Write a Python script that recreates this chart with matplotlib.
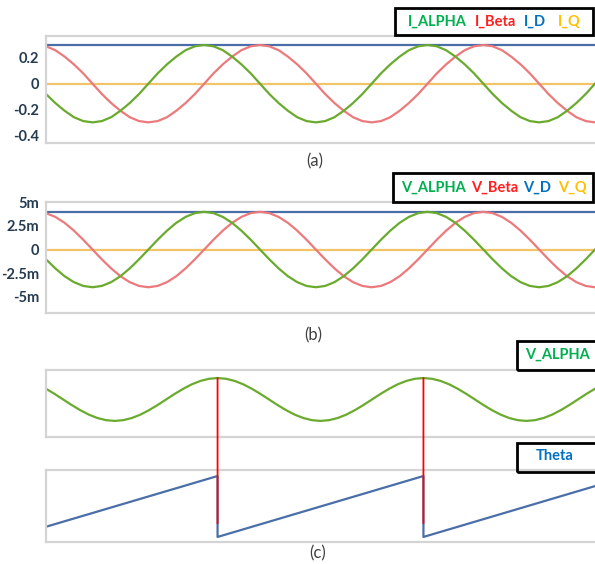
import numpy as np
import matplotlib.pyplot as plt
from matplotlib.patches import Rectangle, ConnectionPatch

plt.rcParams['font.family'] = ['Lato', 'DejaVu Sans']

# (a) currents, one sample per 15 deg of electrical angle
T_AB = np.arange(60)
I_ALPHA = [-0.08, -0.15, -0.21, -0.26, -0.29, -0.30, -0.29, -0.26, -0.21, -0.15, -0.08, 0.00,
           0.08, 0.15, 0.21, 0.26, 0.29, 0.30, 0.29, 0.26, 0.21, 0.15, 0.08, 0.00,
           -0.08, -0.15, -0.21, -0.26, -0.29, -0.30, -0.29, -0.26, -0.21, -0.15, -0.08, 0.00,
           0.08, 0.15, 0.21, 0.26, 0.29, 0.30, 0.29, 0.26, 0.21, 0.15, 0.08, 0.00,
           -0.08, -0.15, -0.21, -0.26, -0.29, -0.30, -0.29, -0.26, -0.21, -0.15, -0.08, 0.00]
I_BETA = [0.29, 0.26, 0.21, 0.15, 0.08, 0.00, -0.08, -0.15, -0.21, -0.26, -0.29, -0.30,
          -0.29, -0.26, -0.21, -0.15, -0.08, 0.00, 0.08, 0.15, 0.21, 0.26, 0.29, 0.30,
          0.29, 0.26, 0.21, 0.15, 0.08, 0.00, -0.08, -0.15, -0.21, -0.26, -0.29, -0.30,
          -0.29, -0.26, -0.21, -0.15, -0.08, 0.00, 0.08, 0.15, 0.21, 0.26, 0.29, 0.30,
          0.29, 0.26, 0.21, 0.15, 0.08, 0.00, -0.08, -0.15, -0.21, -0.26, -0.29, -0.30]
I_D = [0.30] * 60
I_Q = [0.00] * 60

# (b) voltages in mV
V_ALPHA = [-1.04, -2.0, -2.83, -3.46, -3.86, -4.0, -3.86, -3.46, -2.83, -2.0, -1.04, 0.0,
           1.04, 2.0, 2.83, 3.46, 3.86, 4.0, 3.86, 3.46, 2.83, 2.0, 1.04, 0.0,
           -1.04, -2.0, -2.83, -3.46, -3.86, -4.0, -3.86, -3.46, -2.83, -2.0, -1.04, 0.0,
           1.04, 2.0, 2.83, 3.46, 3.86, 4.0, 3.86, 3.46, 2.83, 2.0, 1.04, 0.0,
           -1.04, -2.0, -2.83, -3.46, -3.86, -4.0, -3.86, -3.46, -2.83, -2.0, -1.04, 0.0]
V_BETA = [3.86, 3.46, 2.83, 2.0, 1.04, 0.0, -1.04, -2.0, -2.83, -3.46, -3.86, -4.0,
          -3.86, -3.46, -2.83, -2.0, -1.04, 0.0, 1.04, 2.0, 2.83, 3.46, 3.86, 4.0,
          3.86, 3.46, 2.83, 2.0, 1.04, 0.0, -1.04, -2.0, -2.83, -3.46, -3.86, -4.0,
          -3.86, -3.46, -2.83, -2.0, -1.04, 0.0, 1.04, 2.0, 2.83, 3.46, 3.86, 4.0,
          3.86, 3.46, 2.83, 2.0, 1.04, 0.0, -1.04, -2.0, -2.83, -3.46, -3.86, -4.0]
V_D = [4.0] * 60
V_Q = [0.0] * 60
V_TICKS = [5, 2.5, 0, -2.5, -5]
V_TICKLABELS = ['5m', '2.5m', '0', '-2.5m', '-5m']

# (c) V_ALPHA and the PLL angle
T_C = np.arange(65)
V_ALPHA_C = [2.0, 1.04, 0.0, -1.04, -2.0, -2.83, -3.46, -3.86, -4.0,
             -3.86, -3.46, -2.83, -2.0, -1.04, 0.0, 1.04, 2.0, 2.83, 3.46, 3.86, 4.0,
             3.86, 3.46, 2.83, 2.0, 1.04, 0.0, -1.04, -2.0, -2.83, -3.46, -3.86, -4.0,
             -3.86, -3.46, -2.83, -2.0, -1.04, 0.0, 1.04, 2.0, 2.83, 3.46, 3.86, 4.0,
             3.86, 3.46, 2.83, 2.0, 1.04, 0.0, -1.04, -2.0, -2.83, -3.46, -3.86, -4.0,
             -3.86, -3.46, -2.83, -2.0, -1.04, 0.0, 1.04, 2.0]
THETA_T = [0, 20, 20, 44, 44, 64]
THETA = [1.05, 6.28, 0.0, 6.28, 0.0, 5.24]
PEAK_T = [20, 44]

GREEN = '#6aab2e'
RED = '#ec7a7c'
BLUE = '#4a6fa8'
ORANGE = '#f2c46a'
FRAME = '#d4d4d4'
TICKC = '#253b50'

W, H = 595, 564
fig = plt.figure(figsize=(W / 100, H / 100), dpi=100)


def px_axes(x0, y0, x1, y1):
    return fig.add_axes([x0 / W, 1 - y1 / H, (x1 - x0) / W, (y1 - y0) / H])


def style(ax, ticks=True):
    for s in ['left', 'top', 'bottom']:
        ax.spines[s].set_color(FRAME)
        ax.spines[s].set_linewidth(1.6)
    ax.spines['right'].set_visible(False)
    ax.set_xticks([])
    if ticks:
        ax.tick_params(axis='y', length=0, pad=5, labelsize=10.5, labelcolor=TICKC)
        for lab in ax.get_yticklabels():
            lab.set_fontweight('bold')
    else:
        ax.set_yticks([])


def legend_box(x0, y0, x1, y1, items):
    fig.add_artist(Rectangle((x0 / W, 1 - y1 / H), (x1 - x0) / W, (y1 - y0) / H,
                             transform=fig.transFigure, fill=False, ec='black', lw=2))
    for x, txt, c in items:
        fig.text(x / W, 1 - (y0 + y1) / 2 / H, txt, color=c, fontsize=10.5,
                 fontweight='bold', ha='center', va='center')


LW = 1.6

# (a)
ax = px_axes(46, 36, 595, 143)
ax.plot(T_AB, I_D, color=BLUE, lw=LW)
ax.plot(T_AB, I_Q, color=ORANGE, lw=LW)
ax.plot(T_AB, I_BETA, color=RED, lw=LW)
ax.plot(T_AB, I_ALPHA, color=GREEN, lw=LW)
ax.set_xlim(0, 59)
ax.set_ylim(-0.46, 0.37)
ax.set_yticks([0.2, 0, -0.2, -0.4])
ax.set_yticklabels(['0.2', '0', '-0.2', '-0.4'])
style(ax)
legend_box(395, 8, 593, 35, [(437, 'I_ALPHA', '#00b050'), (495, 'I_Beta', '#ff2020'),
                             (535, 'I_D', '#0070c0'), (569, 'I_Q', '#ffc000')])
fig.text(315 / W, 1 - 161 / H, '(a)', fontsize=12, color='#404040', ha='center', va='center')

# (b)
ax = px_axes(46, 202, 595, 313)
ax.plot(T_AB, V_D, color=BLUE, lw=LW)
ax.plot(T_AB, V_Q, color=ORANGE, lw=LW)
ax.plot(T_AB, V_BETA, color=RED, lw=LW)
ax.plot(T_AB, V_ALPHA, color=GREEN, lw=LW)
ax.set_xlim(0, 59)
ax.set_ylim(-6.73, 5.04)
ax.set_yticks(V_TICKS)
ax.set_yticklabels(V_TICKLABELS)
style(ax)
legend_box(393, 173, 593, 202, [(433, 'V_ALPHA', '#00b050'), (495, 'V_Beta', '#ff2020'),
                                (537, 'V_D', '#0070c0'), (572, 'V_Q', '#ffc000')])
fig.text(313 / W, 1 - 335 / H, '(b)', fontsize=12, color='#404040', ha='center', va='center')

# (c)
ax1 = px_axes(46, 370, 595, 437)
ax1.plot(T_C, V_ALPHA_C, color=GREEN, lw=LW)
ax1.set_xlim(0, 64)
ax1.set_ylim(-7.0, 5.5)
style(ax1, ticks=False)

ax2 = px_axes(46, 470, 595, 542)
ax2.plot(THETA_T, THETA, color=BLUE, lw=LW)
ax2.set_xlim(0, 64)
ax2.set_ylim(-0.52, 6.9)
style(ax2, ticks=False)

for t in PEAK_T:
    con = ConnectionPatch(xyA=(t, 4.0), coordsA=ax1.transData,
                          xyB=(t, 1.4), coordsB=ax2.transData,
                          color='#ff0000', lw=1.3, zorder=5)
    fig.add_artist(con)

fig.add_artist(Rectangle((517 / W, 1 - 370 / H), 90 / W, 29 / H,
                         transform=fig.transFigure, fill=False, ec='black', lw=2))
fig.text(557 / W, 1 - 355 / H, 'V_ALPHA', color='#00b050', fontsize=10.5,
         fontweight='bold', ha='center', va='center')
fig.add_artist(Rectangle((517 / W, 1 - 472 / H), 90 / W, 29 / H,
                         transform=fig.transFigure, fill=False, ec='black', lw=2))
fig.text(555 / W, 1 - 456 / H, 'Theta', color='#0070c0', fontsize=10.5,
         fontweight='bold', ha='center', va='center')
fig.text(318 / W, 1 - 553 / H, '(c)', fontsize=12, color='#404040', ha='center', va='center')

fig.savefig('out.png', dpi=100)
